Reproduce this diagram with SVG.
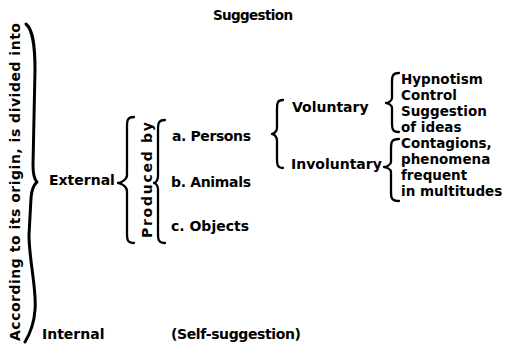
<svg xmlns="http://www.w3.org/2000/svg" width="516" height="344" viewBox="0 0 516 344">
<style>
text{font-family:"DejaVu Sans","Noto Sans",sans-serif;font-weight:bold;font-size:14px;fill:#000}
.li{font-size:13.5px}
.br{fill:none;stroke:#000;stroke-width:2.3;stroke-linecap:round;stroke-linejoin:round}
</style>
<rect width="516" height="344" fill="#fff"/>
<g id="connectors">
<path class="br" style="stroke-width:3" d="M26,24 C33,30 35,45 35,70 L33,165 Q33,178 37,182 Q32,186 31,198 L29,235 C29,260 37,290 35,310 C34,325 28,337 25,342"/>
<path class="br" d="M134,117 C127,117 127,121 127,127 L127,175 C127,180 120,183 118,183 C120,183 127,186 127,191 L127,233 C127,239 127,243 134,243"/>
<path class="br" d="M165,120 C158,120 158,124 158,130 L158,176 C158,180 156,183 154,183 C156,183 158,186 158,190 L158,233 C158,239 158,243 165,243"/>
<path class="br" d="M283,100 C277,100 277,104 277,109 L277,128 C277,131 274,134 272,134 C274,134 277,137 277,140 L277,159 C277,164 277,168 283,168"/>
<path class="br" d="M399,73 C392,73 392,77 392,82 L392,98 C392,101 388,103 386,103 C388,103 392,105 392,108 L392,123 C392,128 392,132 399,132"/>
<path class="br" d="M399,139 C391,139 391,143 391,148 L391,162 C391,165 386,167 384,167 C386,167 391,169 391,172 L391,192 C391,197 391,201 399,201"/>
</g>
<g id="title"><text x="213" y="20" style="font-size:13.5px" textLength="80">Suggestion</text></g>
<g id="origin"><text transform="translate(19.5,341) rotate(-90)" textLength="318">According to its origin, is divided into</text></g>
<g id="external"><text x="49" y="185">External</text></g>
<g id="internal"><text x="42" y="339">Internal</text></g>
<g id="self"><text x="171" y="339" textLength="130">(Self-suggestion)</text></g>
<g id="produced"><text transform="translate(152,238) rotate(-90)" textLength="116">Produced  by</text></g>
<g id="persons"><text x="172" y="141" textLength="79">a. Persons</text></g>
<g id="animals"><text x="171" y="187" textLength="80">b. Animals</text></g>
<g id="objects"><text x="171" y="231" textLength="78">c. Objects</text></g>
<g id="voluntary"><text x="292" y="112">Voluntary</text></g>
<g id="involuntary"><text x="291" y="169">Involuntary</text></g>
<g id="vol-list">
<text class="li" x="401" y="84">Hypnotism</text>
<text class="li" x="401" y="100">Control</text>
<text class="li" x="401" y="116">Suggestion</text>
<text class="li" x="401" y="132">of ideas</text>
</g>
<g id="invol-list">
<text class="li" x="401" y="148">Contagions,</text>
<text class="li" x="401" y="164">phenomena</text>
<text class="li" x="401" y="180">frequent</text>
<text class="li" x="401" y="196">in multitudes</text>
</g>
</svg>
